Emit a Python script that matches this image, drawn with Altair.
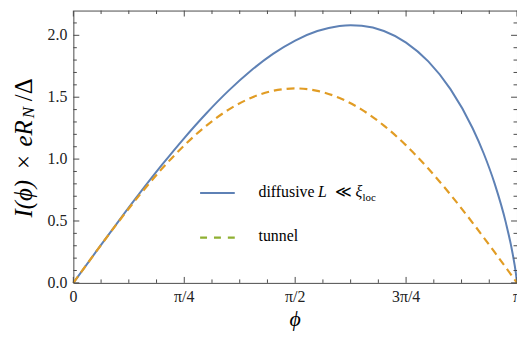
import altair as alt
import pandas as pd

# ---- data (phi in units of pi) ----
phi_diffusive = [0.0, 0.05, 0.10, 0.15, 0.20, 0.25, 0.30, 0.35, 0.40, 0.45, 0.50,
                 0.55, 0.60, 0.625, 0.65, 0.70, 0.75, 0.80, 0.85, 0.90, 0.925,
                 0.95, 0.975, 0.99, 0.9975, 1.0]
I_diffusive = [0.0, 0.2462, 0.4894, 0.7265, 0.9545, 1.1703, 1.3708, 1.5530, 1.7138,
               1.8498, 1.9579, 2.0346, 2.0759, 2.0820, 2.0777, 2.0350, 1.9415,
               1.7890, 1.5651, 1.2493, 1.0452, 0.7978, 0.4848, 0.2392, 0.0769, 0.0]
phi_tunnel = [0.0, 0.05, 0.10, 0.15, 0.20, 0.25, 0.30, 0.35, 0.40, 0.45, 0.50,
              0.55, 0.60, 0.65, 0.70, 0.75, 0.80, 0.85, 0.90, 0.95, 1.0]
I_tunnel = [0.0, 0.2457, 0.4854, 0.7131, 0.9233, 1.1107, 1.2708, 1.3996, 1.4939,
            1.5515, 1.5708, 1.5515, 1.4939, 1.3996, 1.2708, 1.1107, 0.9233,
            0.7131, 0.4854, 0.2457, 0.0]

x_major = [0.0, 0.25, 0.5, 0.75, 1.0]
x_major_labels = ["0", "π/4", "π/2", "3π/4", "π"]
x_minor = [0.0625, 0.125, 0.1875, 0.3125, 0.375, 0.4375,
           0.5625, 0.625, 0.6875, 0.8125, 0.875, 0.9375]
y_major = [0.0, 0.5, 1.0, 1.5, 2.0]
y_major_labels = ["0.0", "0.5", "1.0", "1.5", "2.0"]
y_minor = [0.1, 0.2, 0.3, 0.4, 0.6, 0.7, 0.8, 0.9, 1.1, 1.2, 1.3, 1.4,
           1.6, 1.7, 1.8, 1.9, 2.1]

BLUE = "#5E81B5"
ORANGE = "#E19C24"
GREEN = "#8FB032"
FRAME = "#4a4a4a"
LABEL = "#222222"
FONT = "Liberation Serif"
W, H = 448, 275

xs = alt.Scale(domain=[0, 1], nice=False, zero=False)
ys = alt.Scale(domain=[0, 2.2], nice=False, zero=False)

d_diff = pd.DataFrame({"phi": phi_diffusive, "I": I_diffusive})
d_tun = pd.DataFrame({"phi": phi_tunnel, "I": I_tunnel})

diff = alt.Chart(d_diff).mark_line(color=BLUE, strokeWidth=2, interpolate="monotone").encode(
    x=alt.X("phi:Q", scale=xs, axis=None),
    y=alt.Y("I:Q", scale=ys, axis=None),
)
tun = alt.Chart(d_tun).mark_line(color=ORANGE, strokeWidth=2.2, strokeDash=[8, 5],
                                 interpolate="monotone").encode(
    x=alt.X("phi:Q", scale=xs, axis=None),
    y=alt.Y("I:Q", scale=ys, axis=None),
)


def tick_layer(vals, orient, length):
    df = pd.DataFrame({"v": vals})
    m = alt.Chart(df).mark_rule(color=FRAME, strokeWidth=1)
    if orient == "bottom":
        return m.encode(x=alt.X("v:Q", scale=xs, axis=None), y=alt.value(H), y2=alt.value(H - length))
    if orient == "top":
        return m.encode(x=alt.X("v:Q", scale=xs, axis=None), y=alt.value(0), y2=alt.value(length))
    if orient == "left":
        return m.encode(y=alt.Y("v:Q", scale=ys, axis=None), x=alt.value(0), x2=alt.value(length))
    return m.encode(y=alt.Y("v:Q", scale=ys, axis=None), x=alt.value(W), x2=alt.value(W - length))


def text_layer(txt, x, y, size=16, style="normal", angle=0, align="left",
               baseline="alphabetic", color="#000000"):
    return alt.Chart(pd.DataFrame({"t": [txt]})).mark_text(
        align=align, baseline=baseline, font=FONT, fontSize=size,
        fontStyle=style, angle=angle, color=color,
    ).encode(text="t:N", x=alt.value(x), y=alt.value(y))


def legend_line(y, color, dash, width):
    kw = dict(color=color, strokeWidth=width)
    if dash:
        kw["strokeDash"] = dash
    return alt.Chart(pd.DataFrame({"a": [0]})).mark_rule(**kw).encode(
        x=alt.value(128), x2=alt.value(163), y=alt.value(y))


x_labels = alt.Chart(pd.DataFrame({"v": x_major, "lab": x_major_labels})).mark_text(
    align="center", baseline="middle", font=FONT, fontSize=16, color=LABEL
).encode(x=alt.X("v:Q", scale=xs, axis=None), y=alt.value(H + 14), text="lab:N")
y_labels = alt.Chart(pd.DataFrame({"v": y_major, "lab": y_major_labels})).mark_text(
    align="right", baseline="middle", font=FONT, fontSize=16, color=LABEL
).encode(y=alt.Y("v:Q", scale=ys, axis=None), x=alt.value(-6), text="lab:N")

layers = [diff, tun, x_labels, y_labels]
for orient in ["bottom", "top"]:
    layers.append(tick_layer(x_major, orient, 6))
    layers.append(tick_layer(x_minor, orient, 3.5))
for orient in ["left", "right"]:
    layers.append(tick_layer(y_major, orient, 6))
    layers.append(tick_layer(y_minor, orient, 3.5))

layers += [
    legend_line(184.3, BLUE, None, 2),
    legend_line(229.3, GREEN, [7, 7], 2.2),
    text_layer("diffusive", 187, 188.5),
    text_layer("L", 247, 188.5, style="italic"),
    text_layer("≪", 264, 188.5),
    text_layer("ξ", 285, 188.5, style="italic"),
    text_layer("loc", 292, 192, size=11),
    text_layer("tunnel", 187, 233),
]

TX = -50
layers += [
    text_layer("I(ϕ)", TX, 190, size=25, style="italic", angle=270, align="center", baseline="middle"),
    text_layer("×", TX, 153, size=25, angle=270, align="center", baseline="middle"),
    text_layer("eR", TX, 124, size=25, style="italic", angle=270, align="center", baseline="middle"),
    text_layer("N", TX + 5, 103, size=17, style="italic", angle=270, align="center", baseline="middle"),
    text_layer("/Δ", TX, 80, size=25, angle=270, align="center", baseline="middle"),
    text_layer("ϕ", W / 2, 312, size=22, style="italic", align="center", baseline="middle"),
]

chart = alt.layer(*layers).properties(
    width=W, height=H,
    padding={"left": 66, "top": 1, "right": 0, "bottom": 47},
    autosize=alt.AutoSizeParams(type="none"),
    background="white",
).configure_view(stroke=FRAME, strokeWidth=1)

chart.save("out.html", embed_options={"renderer": "svg", "actions": False})
